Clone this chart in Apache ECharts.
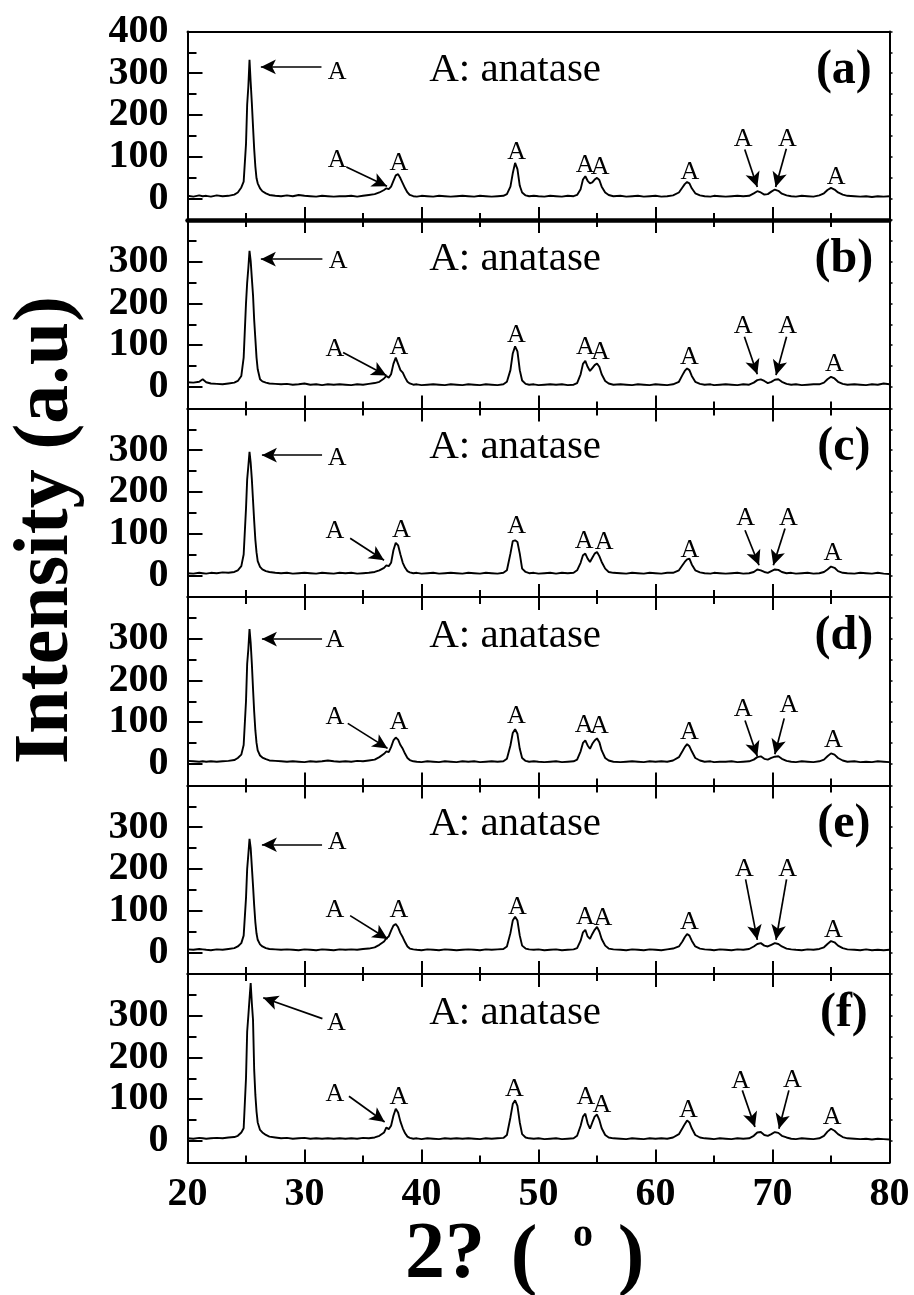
<!DOCTYPE html>
<html><head><meta charset="utf-8">
<script src="https://cdn.jsdelivr.net/npm/echarts@6/dist/echarts.min.js"></script>
<style>html,body{margin:0;padding:0;background:#fff}#c{width:914px;height:1295px}</style>
</head><body><div id="c"></div>
<script>
// 2-theta positions (shared by all six patterns)
const X = [
 20.0,20.5,21.0,21.3,21.6,22.0,22.5,23.0,23.5,24.0,
 24.3,24.6,24.8,25.0,25.1,25.2,25.3,25.4,25.5,25.6,
 25.7,25.8,25.9,26.0,26.2,26.4,26.7,27.0,27.5,28.0,
 28.5,29.0,29.5,30.0,30.5,31.0,31.5,32.0,32.5,33.0,
 33.5,34.0,34.5,35.0,35.5,36.0,36.4,36.8,37.0,37.2,
 37.4,37.6,37.8,37.9,38.0,38.2,38.4,38.6,38.8,39.0,
 39.3,39.6,40.0,40.5,41.0,41.5,42.0,42.5,43.0,43.5,
 44.0,44.5,45.0,45.5,46.0,46.5,47.0,47.3,47.6,47.8,
 48.0,48.2,48.4,48.6,48.9,49.2,49.6,50.0,50.5,51.0,
 51.5,52.0,52.5,53.0,53.3,53.6,53.8,54.0,54.2,54.4,
 54.6,54.8,55.0,55.2,55.4,55.7,56.0,56.4,57.0,57.5,
 58.0,58.5,59.0,59.5,60.0,60.5,61.0,61.5,62.0,62.3,
 62.5,62.7,62.9,63.1,63.4,63.8,64.2,64.7,65.0,65.5,
 66.0,66.5,67.0,67.5,68.0,68.4,68.7,69.0,69.3,69.6,
 69.9,70.2,70.5,70.8,71.2,71.6,72.0,72.5,73.0,73.5,
 74.0,74.4,74.7,75.0,75.3,75.6,76.0,76.4,77.0,77.5,
 78.0,78.5,79.0,79.5,80.0];

const Ya = [
 6,4,7,5,6,4,7,5,6,9,
 14,26,40,130,225,268,332,278,228,172,
 118,76,48,36,24,17,12,8,6,5,
 7,5,8,6,5,4,6,5,4,5,
 5,6,4,6,8,10,14,20,24,22,
 28,42,55,59,58,48,36,24,14,8,
 5,4,6,5,4,6,5,4,5,6,
 5,4,6,5,4,5,6,10,28,60,
 85,70,30,14,7,5,6,5,4,6,
 5,4,6,5,8,22,45,53,42,36,
 38,45,49,44,28,14,8,5,6,4,
 5,6,4,5,6,4,5,7,14,26,
 34,39,36,24,12,7,5,4,6,5,
 4,5,6,5,6,12,17,14,9,10,
 16,21,18,11,7,5,4,6,5,4,
 7,12,20,25,21,14,9,6,5,4,
 5,3,5,4,5];
const Yb = [
 11,10,12,18,11,8,7,6,8,10,
 14,26,70,200,250,285,326,302,260,220,
 160,115,70,42,18,13,10,8,7,6,
 7,5,6,8,5,6,4,6,5,6,
 5,4,6,5,7,9,12,20,26,22,
 30,55,70,68,55,40,34,22,12,8,
 5,6,4,5,6,5,4,6,5,4,
 6,5,4,6,5,4,6,12,40,80,
 97,85,40,15,7,5,6,4,5,6,
 5,6,4,5,9,30,55,62,48,38,
 45,52,56,48,30,14,8,5,6,5,
 4,6,5,4,6,5,4,6,12,28,
 38,44,40,26,12,7,5,6,4,5,
 6,5,4,6,5,10,16,18,14,9,
 12,17,18,12,7,5,6,4,5,6,
 6,10,18,24,20,12,7,5,6,5,
 4,6,5,8,6];
const Yc = [
 5,4,6,5,4,6,5,7,6,8,
 12,22,50,160,230,262,296,270,230,180,
 130,85,55,34,20,14,10,8,6,5,
 6,4,5,6,5,4,6,5,4,6,
 5,6,4,5,6,8,12,18,24,22,
 30,60,78,80,72,50,30,18,10,7,
 5,6,4,5,6,4,5,6,5,4,
 6,5,4,6,5,4,6,12,52,82,
 84,80,52,16,8,5,6,4,5,6,
 4,6,5,6,12,30,48,52,40,32,
 42,52,56,46,32,16,8,6,5,4,
 6,5,4,6,5,4,6,6,12,24,
 32,38,40,26,12,7,5,4,6,5,
 4,5,6,4,5,8,14,12,8,6,
 10,14,13,8,5,6,4,5,6,4,
 5,8,14,21,18,10,6,5,4,6,
 5,4,6,4,3];
const Yd = [
 7,6,5,6,5,6,5,6,7,9,
 14,22,45,150,240,275,323,290,240,180,
 125,80,50,32,20,15,11,8,7,6,
 5,6,5,4,6,5,6,8,6,5,
 6,5,7,6,8,10,16,24,30,28,
 40,56,63,62,58,45,36,24,14,9,
 6,5,4,6,5,4,6,5,4,6,
 5,6,4,5,6,5,6,12,44,74,
 83,72,36,14,7,5,6,5,4,5,
 6,4,5,6,10,30,50,56,44,36,
 48,56,61,52,32,14,8,5,4,5,
 6,5,4,6,5,6,5,8,16,30,
 40,47,42,30,14,8,5,6,4,5,
 5,6,4,5,6,10,16,18,12,10,
 14,17,18,12,7,5,4,6,5,4,
 6,10,18,25,22,14,8,5,6,4,
 5,4,6,5,4];
const Ye = [
 7,6,8,7,6,5,7,6,8,10,
 14,22,40,130,200,235,272,250,205,160,
 112,72,45,30,19,14,10,8,7,6,
 7,6,5,7,6,5,7,6,5,7,
 6,7,6,8,9,12,18,26,34,38,
 52,64,68,66,60,46,36,24,14,9,
 7,6,5,7,6,5,7,6,5,6,
 7,6,5,7,6,7,8,14,46,76,
 85,76,40,16,9,7,6,7,5,6,
 7,5,6,7,10,28,48,54,38,32,
 44,54,61,50,32,16,9,7,6,5,
 7,6,5,7,6,5,7,9,14,26,
 36,44,40,28,14,9,7,6,5,7,
 6,5,7,6,8,14,20,22,16,14,
 18,22,20,14,9,7,6,5,7,6,
 8,12,20,27,24,16,10,7,6,5,
 7,5,6,5,6];
const Yf = [
 6,5,7,6,5,6,7,6,8,9,
 12,20,30,150,262,300,340,378,330,290,
 170,110,70,44,26,20,14,10,8,6,
 7,5,6,7,5,6,5,6,5,6,
 5,6,5,7,6,8,12,20,32,28,
 36,60,77,76,68,46,30,18,10,7,
 5,6,4,6,5,4,6,5,6,5,
 6,5,4,6,5,6,7,14,56,88,
 97,84,44,16,8,6,5,6,4,5,
 6,4,5,6,12,36,58,65,42,29,
 44,58,63,50,30,14,8,6,5,4,
 6,5,4,6,5,6,5,8,16,30,
 40,49,44,30,14,8,6,5,4,6,
 5,4,6,5,6,12,20,21,14,12,
 16,21,19,12,8,5,4,6,5,4,
 6,12,22,29,24,16,9,6,5,4,
 5,3,5,4,3];
const Ys = [Ya, Yb, Yc, Yd, Ye, Yf];

const panelLabels = ['(a)','(b)','(c)','(d)','(e)','(f)'];
const phaseText = 'A: anatase';
const peakMark = 'A';
const xTicks = [20,30,40,50,60,70,80];

// annotation anchors in data coordinates: [tailX, tailY, tipX, tipY]
const mainArrow = [[31.45,315,26.27,315],[31.53,306,26.27,306],[31.5,288,26.36,288],[31.5,299,26.36,299],[31.5,258,26.36,258],[31.53,293,26.47,343]];
const mainLabel = [[32.78,303],[32.87,302],[32.8,281],[32.6,297],[32.8,265],[32.73,283]];
const shoulderArrow = [[33.58,75,37.05,29],[33.3,82,37.0,27],[33.9,89,36.8,36],[33.7,97,37.1,37],[33.9,88,37.1,32],[33.8,107,36.85,45]];
const shoulderLabel = [[32.78,91],[32.6,90],[32.6,106],[32.6,112],[32.6,102],[32.6,113]];
const peakLabels = [
 [[38.07,85],[48.14,111],[53.98,79],[55.26,75],[62.94,63],[75.44,50]],
 [[38.07,94],[48.1,124],[54.0,94],[55.3,84],[62.9,72],[75.3,54]],
 [[38.28,108],[48.14,117],[53.9,82],[55.6,79],[62.94,60],[75.17,52]],
 [[38.07,100],[48.1,114],[53.9,92],[55.2,90],[62.9,75],[75.2,56]],
 [[38.07,100],[48.2,109],[54.0,85],[55.5,83],[62.9,73],[75.2,54]],
 [[38.07,105],[47.94,125],[54.06,104],[55.42,85],[62.82,73],[75.1,56]]];
const leftArrow = [[67.63,117,68.7,27],[67.6,120,68.7,30],[67.65,108,68.85,24],[67.65,104,68.7,18],[67.7,175,68.7,30],[67.42,121,68.5,33]];
const leftLabel = [[67.5,143],[67.5,145],[67.7,136],[67.5,131],[67.6,200],[67.28,144]];
const rightArrow = [[71.18,119,70.27,27],[71.2,120,70.3,28],[71.07,112,70.07,24],[71.0,109,70.2,23],[71.2,175,70.3,30],[71.4,121,70.55,29]];
const rightLabel = [[71.27,143],[71.3,145],[71.35,136],[71.4,141],[71.3,200],[71.7,145]];
const textAnchor = [48.0, 306];
const panelLabelAnchor = [76.1, 306];

const YMIN = -52, YMAX = 400;
const FONT = 'Liberation Serif';
const grids = [], xAxes = [], yAxes = [], series = [];
const black = '#000';
for (let i = 0; i < 6; i++) {
  grids.push({left: 187.5, width: 702, top: 31.5 + i * 188.5, height: 188.5});
  const majorY = i === 0 ? [0,100,200,300,400] : [0,100,200,300];
  xAxes.push({gridIndex: i, type: 'value', min: 20, max: 80, interval: 10, position: 'bottom',
    axisLine: {show: true, onZero: false, lineStyle: {color: black, width: i === 0 ? 4.5 : 2}},
    axisTick: {show: true, inside: true, length: 13, lineStyle: {color: black, width: 2}},
    minorTick: {show: true, splitNumber: 2, length: 7, lineStyle: {color: black, width: 2}},
    splitLine: {show: false}, minorSplitLine: {show: false},
    axisLabel: {show: i === 5, margin: 12, fontSize: 40, fontWeight: 'bold', fontFamily: FONT, color: black}});
  xAxes.push({gridIndex: i, type: 'value', min: 20, max: 80, interval: 10, position: 'top',
    axisLine: {show: true, onZero: false, lineStyle: {color: black, width: 2}},
    axisTick: {show: i > 0, inside: true, length: 13, lineStyle: {color: black, width: 2}},
    minorTick: {show: i > 0, splitNumber: 2, length: 7, lineStyle: {color: black, width: 2}},
    splitLine: {show: false}, axisLabel: {show: false}});
  yAxes.push({gridIndex: i, type: 'value', min: YMIN, max: YMAX, position: 'left',
    axisLine: {show: true, onZero: false, lineStyle: {color: black, width: 2}},
    axisTick: {show: true, inside: true, length: 15, customValues: majorY, lineStyle: {color: black, width: 2}},
    axisLabel: {show: true, customValues: majorY, margin: 19, fontSize: 40, fontWeight: 'bold', fontFamily: FONT, color: black},
    splitLine: {show: false}});
  yAxes.push({gridIndex: i, type: 'value', min: YMIN, max: YMAX, position: 'left',
    axisLine: {show: false, onZero: false},
    axisTick: {show: true, inside: true, length: 9, customValues: [50,150,250,350], lineStyle: {color: black, width: 2}},
    axisLabel: {show: false}, splitLine: {show: false}});
  yAxes.push({gridIndex: i, type: 'value', min: YMIN, max: YMAX, position: 'right',
    axisLine: {show: true, onZero: false, lineStyle: {color: black, width: 2}},
    axisTick: {show: true, inside: false, length: 3, customValues: [0,50,100,150,200,250,300,350,400], lineStyle: {color: black, width: 1.5}},
    axisLabel: {show: false}, splitLine: {show: false}});

  const arrows = [mainArrow[i], shoulderArrow[i], leftArrow[i], rightArrow[i]]
    .map(a => [{coord: [a[0], a[1]]}, {coord: [a[2], a[3]]}]);
  const aLabels = [mainLabel[i], shoulderLabel[i], leftLabel[i], rightLabel[i]].concat(peakLabels[i])
    .map(p => ({coord: p, value: peakMark}));
  aLabels.push({coord: textAnchor, value: phaseText,
    label: {formatter: phaseText, fontSize: 41, fontWeight: 'normal'}});
  aLabels.push({coord: panelLabelAnchor, value: panelLabels[i],
    label: {formatter: panelLabels[i], fontSize: 48, fontWeight: 'bold'}});

  series.push({type: 'line', xAxisIndex: 2 * i, yAxisIndex: 3 * i,
    data: X.map((x, k) => [x, Ys[i][k]]),
    showSymbol: false, symbol: 'none', animation: false, silent: true,
    lineStyle: {color: black, width: 1.9},
    markLine: {silent: true, animation: false, symbol: ['none', 'arrow'], symbolSize: [11, 15],
      lineStyle: {color: black, width: 1.7, type: 'solid'}, label: {show: false},
      emphasis: {disabled: true}, data: arrows},
    markPoint: {silent: true, animation: false, symbol: 'circle', symbolSize: 1,
      itemStyle: {color: 'rgba(0,0,0,0)'},
      label: {show: true, position: 'inside', formatter: p => p.value, color: black, fontFamily: FONT, fontSize: 26},
      data: aLabels}
  });
}

const chart = echarts.init(document.getElementById('c'), null, {renderer: 'canvas'});
chart.setOption({
  backgroundColor: '#fff',
  animation: false,
  grid: grids, xAxis: xAxes, yAxis: yAxes, series: series,
  graphic: [
    {type: 'text', x: 47, y: 530, rotation: Math.PI / 2,
     style: {text: 'Intensity (a.u)', font: 'bold 78px "Liberation Serif"', fill: black, align: 'center', verticalAlign: 'middle'}},
    {type: 'text', x: 445, y: 1256, style: {text: '2?', font: 'bold 80px "Liberation Serif"', fill: black, align: 'center', verticalAlign: 'middle'}},
    {type: 'text', x: 524, y: 1259, style: {text: '(', font: 'bold 80px "Liberation Serif"', fill: black, align: 'center', verticalAlign: 'middle'}},
    {type: 'text', x: 583, y: 1236, style: {text: 'o', font: 'bold 40px "Liberation Serif"', fill: black, align: 'center', verticalAlign: 'middle'}},
    {type: 'text', x: 631, y: 1259, style: {text: ')', font: 'bold 80px "Liberation Serif"', fill: black, align: 'center', verticalAlign: 'middle'}}
  ]
});
</script></body></html>
